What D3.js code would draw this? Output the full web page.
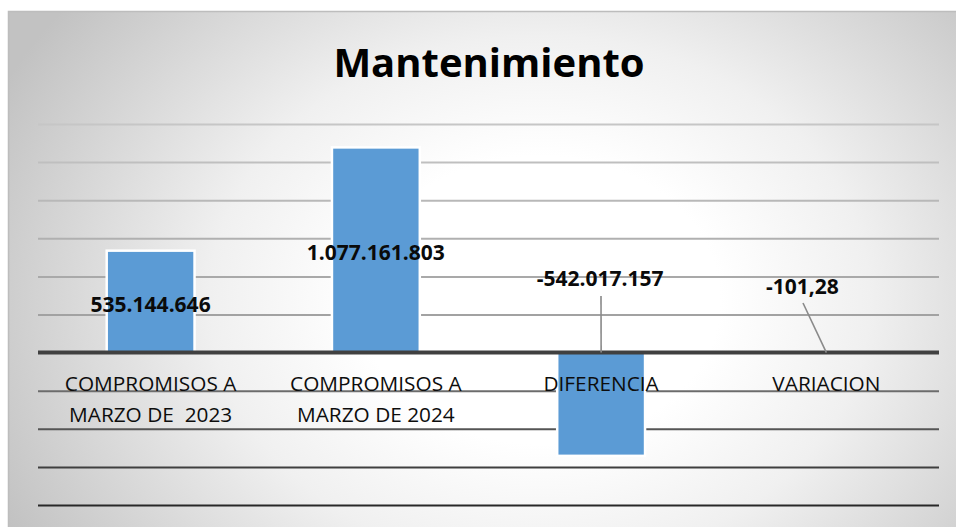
<!DOCTYPE html>
<html><head><meta charset="utf-8">
<script src="https://cdn.jsdelivr.net/npm/d3@7"></script>
<style>html,body{margin:0;padding:0;background:#fff;}svg{display:block;}</style>
</head><body>
<svg id="c" width="956" height="527"></svg>
<script>
const title = "Mantenimiento";
const categories = ["COMPROMISOS A\nMARZO DE  2023", "COMPROMISOS A\nMARZO DE 2024", "DIFERENCIA", "VARIACION"];
const values = [535144646, 1077161803, -542017157, -101.28];
const valueLabels = ["535.144.646", "1.077.161.803", "-542.017.157", "-101,28"];
const yTicks = [-800e6, -600e6, -400e6, -200e6, 0, 200e6, 400e6, 600e6, 800e6, 1000e6, 1200e6];

const svg = d3.select("#c");
const defs = svg.append("defs");
const rg = defs.append("radialGradient").attr("id","bg")
  .attr("gradientUnits","userSpaceOnUse").attr("cx",540).attr("cy",300).attr("r",600)
  .attr("gradientTransform","translate(540,300) scale(1,0.8) translate(-540,-300)");
rg.append("stop").attr("offset","0").attr("stop-color","#ffffff");
rg.append("stop").attr("offset","0.3").attr("stop-color","#ffffff");
rg.append("stop").attr("offset","0.55").attr("stop-color","#f0f0f0");
rg.append("stop").attr("offset","1").attr("stop-color","#c2c2c2");

svg.append("rect").attr("x",8.5).attr("y",11.5).attr("width",956).attr("height",530)
  .attr("fill","url(#bg)").attr("stroke","#bdbdbd").attr("stroke-width",1.5);

const x = d3.scaleBand().domain(d3.range(categories.length)).range([38,939]).paddingInner(0.61).paddingOuter(0.305);
const y = d3.scaleLinear().domain([-800e6, 1200e6]).range([505,124]);
const gridColor = d3.scaleLinear().domain([124,314,390,505]).range(["#c6c6c6","#a2a2a2","#6c6c6c","#282828"]);

// gridlines via axis
const gAxis = svg.append("g").attr("transform","translate(38,0)")
  .call(d3.axisLeft(y).tickValues(yTicks.filter(t=>t!==0)).tickSize(-901).tickFormat(""));
gAxis.select(".domain").remove();
gAxis.selectAll(".tick line").attr("stroke",function(d){return gridColor(y(d));}).attr("stroke-width",2);

// bars
svg.append("g").selectAll("rect").data(values).join("rect")
  .attr("x",(d,i)=>x(i)).attr("width",x.bandwidth())
  .attr("y",d=>Math.min(y(d),y(0))).attr("height",d=>Math.abs(y(d)-y(0)))
  .attr("fill","#5b9bd5").attr("stroke","#ffffff").attr("stroke-width",d=>Math.abs(y(d)-y(0))>1?2.5:0);

// zero axis
svg.append("line").attr("x1",38).attr("x2",939).attr("y1",y(0)).attr("y2",y(0))
  .attr("stroke","#404040").attr("stroke-width",4);

// leader lines
const leaders = [null, null, {lx:601, ly:296}, {lx:803, ly:303}];
svg.append("g").selectAll("line").data(leaders.map((l,i)=>l?{l,i}:null).filter(Boolean)).join("line")
  .attr("x1",d=>d.l.lx).attr("y1",d=>d.l.ly).attr("x2",d=>x(d.i)+x.bandwidth()/2).attr("y2",y(0))
  .attr("stroke","#8a8a8a").attr("stroke-width",1.6);

// value labels
const labelPos = [{dx:0,by:312},{dx:0,by:260},{dx:-1,by:286},{dx:-24,by:294}];
svg.append("g").selectAll("text").data(valueLabels).join("text")
  .attr("x",(d,i)=>x(i)+x.bandwidth()/2+labelPos[i].dx).attr("y",(d,i)=>labelPos[i].by)
  .attr("text-anchor","middle").attr("font-family","'Open Sans', sans-serif").attr("font-weight","bold")
  .attr("font-size",21).attr("fill","#0a0a0a").text(d=>d);

// category labels
const cl = svg.append("g").selectAll("text").data(categories).join("text")
  .attr("text-anchor","middle").attr("font-family","'Open Sans', sans-serif")
  .attr("font-size",20.8).attr("fill","#0d0d0d").style("white-space","pre");
cl.each(function(d,i){
  const t=d3.select(this);
  d.split("\n").forEach((line,k)=>{
    t.append("tspan").attr("x",x(i)+x.bandwidth()/2).attr("y",391+k*30.5).text(line);
  });
});

// title
svg.append("text").attr("x",489).attr("y",77).attr("text-anchor","middle")
  .attr("font-family","'Open Sans', sans-serif").attr("font-weight","bold").attr("font-size",40)
  .attr("fill","#000").text(title);
</script>
</body></html>
